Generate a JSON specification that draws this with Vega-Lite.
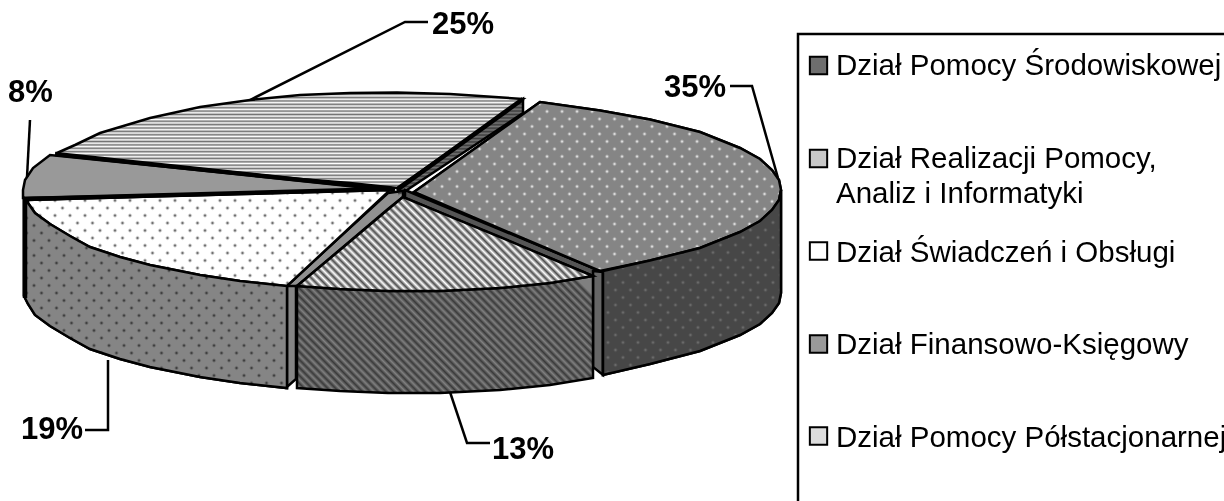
{
"$schema":"https://vega.github.io/schema/vega-lite/v6.json",
"width":1224,"height":501,"autosize":{"type":"none"},"padding":0,
"background":"white","view":{"stroke":null},
"params":[{"name":"stripes","value":[{"offset":0,"color":"#0000"},{"offset":0.01,"color":"#000"},{"offset":0.02,"color":"#0000"},{"offset":0.03,"color":"#000"},{"offset":0.04,"color":"#0000"},{"offset":0.05,"color":"#000"},{"offset":0.06,"color":"#0000"},{"offset":0.07,"color":"#000"},{"offset":0.08,"color":"#0000"},{"offset":0.09,"color":"#000"},{"offset":0.1,"color":"#0000"},{"offset":0.11,"color":"#000"},{"offset":0.12,"color":"#0000"},{"offset":0.13,"color":"#000"},{"offset":0.14,"color":"#0000"},{"offset":0.15,"color":"#000"},{"offset":0.16,"color":"#0000"},{"offset":0.17,"color":"#000"},{"offset":0.18,"color":"#0000"},{"offset":0.19,"color":"#000"},{"offset":0.2,"color":"#0000"},{"offset":0.21,"color":"#000"},{"offset":0.22,"color":"#0000"},{"offset":0.23,"color":"#000"},{"offset":0.24,"color":"#0000"},{"offset":0.25,"color":"#000"},{"offset":0.26,"color":"#0000"},{"offset":0.27,"color":"#000"},{"offset":0.28,"color":"#0000"},{"offset":0.29,"color":"#000"},{"offset":0.3,"color":"#0000"},{"offset":0.31,"color":"#000"},{"offset":0.32,"color":"#0000"},{"offset":0.33,"color":"#000"},{"offset":0.34,"color":"#0000"},{"offset":0.35,"color":"#000"},{"offset":0.36,"color":"#0000"},{"offset":0.37,"color":"#000"},{"offset":0.38,"color":"#0000"},{"offset":0.39,"color":"#000"},{"offset":0.4,"color":"#0000"},{"offset":0.41,"color":"#000"},{"offset":0.42,"color":"#0000"},{"offset":0.43,"color":"#000"},{"offset":0.44,"color":"#0000"},{"offset":0.45,"color":"#000"},{"offset":0.46,"color":"#0000"},{"offset":0.47,"color":"#000"},{"offset":0.48,"color":"#0000"},{"offset":0.49,"color":"#000"},{"offset":0.5,"color":"#0000"},{"offset":0.51,"color":"#000"},{"offset":0.52,"color":"#0000"},{"offset":0.53,"color":"#000"},{"offset":0.54,"color":"#0000"},{"offset":0.55,"color":"#000"},{"offset":0.56,"color":"#0000"},{"offset":0.57,"color":"#000"},{"offset":0.58,"color":"#0000"},{"offset":0.59,"color":"#000"},{"offset":0.6,"color":"#0000"},{"offset":0.61,"color":"#000"},{"offset":0.62,"color":"#0000"},{"offset":0.63,"color":"#000"},{"offset":0.64,"color":"#0000"},{"offset":0.65,"color":"#000"},{"offset":0.66,"color":"#0000"},{"offset":0.67,"color":"#000"},{"offset":0.68,"color":"#0000"},{"offset":0.69,"color":"#000"},{"offset":0.7,"color":"#0000"},{"offset":0.71,"color":"#000"},{"offset":0.72,"color":"#0000"},{"offset":0.73,"color":"#000"},{"offset":0.74,"color":"#0000"},{"offset":0.75,"color":"#000"},{"offset":0.76,"color":"#0000"},{"offset":0.77,"color":"#000"},{"offset":0.78,"color":"#0000"},{"offset":0.79,"color":"#000"},{"offset":0.8,"color":"#0000"},{"offset":0.81,"color":"#000"},{"offset":0.82,"color":"#0000"},{"offset":0.83,"color":"#000"},{"offset":0.84,"color":"#0000"},{"offset":0.85,"color":"#000"},{"offset":0.86,"color":"#0000"},{"offset":0.87,"color":"#000"},{"offset":0.88,"color":"#0000"},{"offset":0.89,"color":"#000"},{"offset":0.9,"color":"#0000"},{"offset":0.91,"color":"#000"},{"offset":0.92,"color":"#0000"},{"offset":0.93,"color":"#000"},{"offset":0.94,"color":"#0000"},{"offset":0.95,"color":"#000"},{"offset":0.96,"color":"#0000"},{"offset":0.97,"color":"#000"},{"offset":0.98,"color":"#0000"},{"offset":0.99,"color":"#000"},{"offset":1,"color":"#0000"}]},
{"name":"maskW","value":[{"offset":0.0075,"color":"#fff"},{"offset":0.0125,"color":"#fff0"},{"offset":0.0175,"color":"#fff"},{"offset":0.0325,"color":"#fff"},{"offset":0.0375,"color":"#fff0"},{"offset":0.0425,"color":"#fff"},{"offset":0.0575,"color":"#fff"},{"offset":0.0625,"color":"#fff0"},{"offset":0.0675,"color":"#fff"},{"offset":0.0825,"color":"#fff"},{"offset":0.0875,"color":"#fff0"},{"offset":0.0925,"color":"#fff"},{"offset":0.1075,"color":"#fff"},{"offset":0.1125,"color":"#fff0"},{"offset":0.1175,"color":"#fff"},{"offset":0.1325,"color":"#fff"},{"offset":0.1375,"color":"#fff0"},{"offset":0.1425,"color":"#fff"},{"offset":0.1575,"color":"#fff"},{"offset":0.1625,"color":"#fff0"},{"offset":0.1675,"color":"#fff"},{"offset":0.1825,"color":"#fff"},{"offset":0.1875,"color":"#fff0"},{"offset":0.1925,"color":"#fff"},{"offset":0.2075,"color":"#fff"},{"offset":0.2125,"color":"#fff0"},{"offset":0.2175,"color":"#fff"},{"offset":0.2325,"color":"#fff"},{"offset":0.2375,"color":"#fff0"},{"offset":0.2425,"color":"#fff"},{"offset":0.2575,"color":"#fff"},{"offset":0.2625,"color":"#fff0"},{"offset":0.2675,"color":"#fff"},{"offset":0.2825,"color":"#fff"},{"offset":0.2875,"color":"#fff0"},{"offset":0.2925,"color":"#fff"},{"offset":0.3075,"color":"#fff"},{"offset":0.3125,"color":"#fff0"},{"offset":0.3175,"color":"#fff"},{"offset":0.3325,"color":"#fff"},{"offset":0.3375,"color":"#fff0"},{"offset":0.3425,"color":"#fff"},{"offset":0.3575,"color":"#fff"},{"offset":0.3625,"color":"#fff0"},{"offset":0.3675,"color":"#fff"},{"offset":0.3825,"color":"#fff"},{"offset":0.3875,"color":"#fff0"},{"offset":0.3925,"color":"#fff"},{"offset":0.4075,"color":"#fff"},{"offset":0.4125,"color":"#fff0"},{"offset":0.4175,"color":"#fff"},{"offset":0.4325,"color":"#fff"},{"offset":0.4375,"color":"#fff0"},{"offset":0.4425,"color":"#fff"},{"offset":0.4575,"color":"#fff"},{"offset":0.4625,"color":"#fff0"},{"offset":0.4675,"color":"#fff"},{"offset":0.4825,"color":"#fff"},{"offset":0.4875,"color":"#fff0"},{"offset":0.4925,"color":"#fff"},{"offset":0.5075,"color":"#fff"},{"offset":0.5125,"color":"#fff0"},{"offset":0.5175,"color":"#fff"},{"offset":0.5325,"color":"#fff"},{"offset":0.5375,"color":"#fff0"},{"offset":0.5425,"color":"#fff"},{"offset":0.5575,"color":"#fff"},{"offset":0.5625,"color":"#fff0"},{"offset":0.5675,"color":"#fff"},{"offset":0.5825,"color":"#fff"},{"offset":0.5875,"color":"#fff0"},{"offset":0.5925,"color":"#fff"},{"offset":0.6075,"color":"#fff"},{"offset":0.6125,"color":"#fff0"},{"offset":0.6175,"color":"#fff"},{"offset":0.6325,"color":"#fff"},{"offset":0.6375,"color":"#fff0"},{"offset":0.6425,"color":"#fff"},{"offset":0.6575,"color":"#fff"},{"offset":0.6625,"color":"#fff0"},{"offset":0.6675,"color":"#fff"},{"offset":0.6825,"color":"#fff"},{"offset":0.6875,"color":"#fff0"},{"offset":0.6925,"color":"#fff"},{"offset":0.7075,"color":"#fff"},{"offset":0.7125,"color":"#fff0"},{"offset":0.7175,"color":"#fff"},{"offset":0.7325,"color":"#fff"},{"offset":0.7375,"color":"#fff0"},{"offset":0.7425,"color":"#fff"},{"offset":0.7575,"color":"#fff"},{"offset":0.7625,"color":"#fff0"},{"offset":0.7675,"color":"#fff"},{"offset":0.7825,"color":"#fff"},{"offset":0.7875,"color":"#fff0"},{"offset":0.7925,"color":"#fff"},{"offset":0.8075,"color":"#fff"},{"offset":0.8125,"color":"#fff0"},{"offset":0.8175,"color":"#fff"}]},
{"name":"maskG","value":[{"offset":0.0075,"color":"#858585"},{"offset":0.0125,"color":"#85858500"},{"offset":0.0175,"color":"#858585"},{"offset":0.0325,"color":"#858585"},{"offset":0.0375,"color":"#85858500"},{"offset":0.0425,"color":"#858585"},{"offset":0.0575,"color":"#858585"},{"offset":0.0625,"color":"#85858500"},{"offset":0.0675,"color":"#858585"},{"offset":0.0825,"color":"#858585"},{"offset":0.0875,"color":"#85858500"},{"offset":0.0925,"color":"#858585"},{"offset":0.1075,"color":"#858585"},{"offset":0.1125,"color":"#85858500"},{"offset":0.1175,"color":"#858585"},{"offset":0.1325,"color":"#858585"},{"offset":0.1375,"color":"#85858500"},{"offset":0.1425,"color":"#858585"},{"offset":0.1575,"color":"#858585"},{"offset":0.1625,"color":"#85858500"},{"offset":0.1675,"color":"#858585"},{"offset":0.1825,"color":"#858585"},{"offset":0.1875,"color":"#85858500"},{"offset":0.1925,"color":"#858585"},{"offset":0.2075,"color":"#858585"},{"offset":0.2125,"color":"#85858500"},{"offset":0.2175,"color":"#858585"},{"offset":0.2325,"color":"#858585"},{"offset":0.2375,"color":"#85858500"},{"offset":0.2425,"color":"#858585"},{"offset":0.2575,"color":"#858585"},{"offset":0.2625,"color":"#85858500"},{"offset":0.2675,"color":"#858585"},{"offset":0.2825,"color":"#858585"},{"offset":0.2875,"color":"#85858500"},{"offset":0.2925,"color":"#858585"},{"offset":0.3075,"color":"#858585"},{"offset":0.3125,"color":"#85858500"},{"offset":0.3175,"color":"#858585"},{"offset":0.3325,"color":"#858585"},{"offset":0.3375,"color":"#85858500"},{"offset":0.3425,"color":"#858585"},{"offset":0.3575,"color":"#858585"},{"offset":0.3625,"color":"#85858500"},{"offset":0.3675,"color":"#858585"},{"offset":0.3825,"color":"#858585"},{"offset":0.3875,"color":"#85858500"},{"offset":0.3925,"color":"#858585"},{"offset":0.4075,"color":"#858585"},{"offset":0.4125,"color":"#85858500"},{"offset":0.4175,"color":"#858585"},{"offset":0.4325,"color":"#858585"},{"offset":0.4375,"color":"#85858500"},{"offset":0.4425,"color":"#858585"},{"offset":0.4575,"color":"#858585"},{"offset":0.4625,"color":"#85858500"},{"offset":0.4675,"color":"#858585"},{"offset":0.4825,"color":"#858585"},{"offset":0.4875,"color":"#85858500"},{"offset":0.4925,"color":"#858585"},{"offset":0.5075,"color":"#858585"},{"offset":0.5125,"color":"#85858500"},{"offset":0.5175,"color":"#858585"},{"offset":0.5325,"color":"#858585"},{"offset":0.5375,"color":"#85858500"},{"offset":0.5425,"color":"#858585"},{"offset":0.5575,"color":"#858585"},{"offset":0.5625,"color":"#85858500"},{"offset":0.5675,"color":"#858585"},{"offset":0.5825,"color":"#858585"},{"offset":0.5875,"color":"#85858500"},{"offset":0.5925,"color":"#858585"},{"offset":0.6075,"color":"#858585"},{"offset":0.6125,"color":"#85858500"},{"offset":0.6175,"color":"#858585"},{"offset":0.6325,"color":"#858585"},{"offset":0.6375,"color":"#85858500"},{"offset":0.6425,"color":"#858585"},{"offset":0.6575,"color":"#858585"},{"offset":0.6625,"color":"#85858500"},{"offset":0.6675,"color":"#858585"},{"offset":0.6825,"color":"#858585"},{"offset":0.6875,"color":"#85858500"},{"offset":0.6925,"color":"#858585"},{"offset":0.7075,"color":"#858585"},{"offset":0.7125,"color":"#85858500"},{"offset":0.7175,"color":"#858585"},{"offset":0.7325,"color":"#858585"},{"offset":0.7375,"color":"#85858500"},{"offset":0.7425,"color":"#858585"},{"offset":0.7575,"color":"#858585"},{"offset":0.7625,"color":"#85858500"},{"offset":0.7675,"color":"#858585"},{"offset":0.7825,"color":"#858585"},{"offset":0.7875,"color":"#85858500"},{"offset":0.7925,"color":"#858585"},{"offset":0.8075,"color":"#858585"},{"offset":0.8125,"color":"#85858500"},{"offset":0.8175,"color":"#858585"},{"offset":0.8325,"color":"#858585"},{"offset":0.8375,"color":"#85858500"},{"offset":0.8425,"color":"#858585"},{"offset":0.8575,"color":"#858585"},{"offset":0.8625,"color":"#85858500"},{"offset":0.8675,"color":"#858585"},{"offset":0.8825,"color":"#858585"},{"offset":0.8875,"color":"#85858500"},{"offset":0.8925,"color":"#858585"}]}],
"datasets":{
"parts":[
{"part":"ES","x":398,"y":189,"y2":196},{"part":"ES","x":523,"y":99,"y2":113},
{"part":"ET","x":57,"y":153,"y2":155},{"part":"ET","x":75,"y":145,"y2":157},{"part":"ET","x":100,"y":133,"y2":159},{"part":"ET","x":150,"y":118,"y2":164},{"part":"ET","x":200,"y":107,"y2":169},{"part":"ET","x":250,"y":100,"y2":174},{"part":"ET","x":300,"y":95,"y2":179},{"part":"ET","x":350,"y":93,"y2":183},{"part":"ET","x":397,"y":92.5,"y2":188},{"part":"ET","x":450,"y":94,"y2":151},{"part":"ET","x":523,"y":99,"y2":99},
{"part":"DT","x":23,"y":190,"y2":198},{"part":"DT","x":25,"y":180,"y2":198},{"part":"DT","x":33,"y":168,"y2":197.8},{"part":"DT","x":50,"y":155,"y2":197.4},{"part":"DT","x":392,"y":190,"y2":190},
{"part":"CW","x":24,"y":198,"y2":296},{"part":"CW","x":28,"y":203,"y2":304},{"part":"CW","x":35,"y":213,"y2":315},{"part":"CW","x":50,"y":224,"y2":326},{"part":"CW","x":70,"y":236,"y2":338},{"part":"CW","x":90,"y":247,"y2":349},{"part":"CW","x":120,"y":257,"y2":359},{"part":"CW","x":150,"y":265,"y2":367},{"part":"CW","x":200,"y":275,"y2":377},{"part":"CW","x":240,"y":281,"y2":383},{"part":"CW","x":287,"y":286,"y2":388},
{"part":"CV","x":287,"y":285,"y2":387},{"part":"CV","x":296,"y":285,"y2":379},
{"part":"CS","x":287,"y":285,"y2":286},{"part":"CS","x":297,"y":276,"y2":286},{"part":"CS","x":388,"y":193,"y2":209},{"part":"CS","x":403,"y":191,"y2":197},
{"part":"CT","x":28,"y":200,"y2":203},{"part":"CT","x":35,"y":199.8,"y2":213},{"part":"CT","x":50,"y":199.4,"y2":224},{"part":"CT","x":70,"y":198.8,"y2":236},{"part":"CT","x":90,"y":198.3,"y2":247},{"part":"CT","x":120,"y":197.5,"y2":257},{"part":"CT","x":150,"y":196.6,"y2":265},{"part":"CT","x":200,"y":195.2,"y2":275},{"part":"CT","x":240,"y":194.1,"y2":281},{"part":"CT","x":287,"y":192.8,"y2":286},{"part":"CT","x":388,"y":190,"y2":192},
{"part":"AS","x":405,"y":190,"y2":198},{"part":"AS","x":593,"y":268,"y2":276},{"part":"AS","x":603,"y":272,"y2":276},
{"part":"AV","x":593,"y":271,"y2":367},{"part":"AV","x":603,"y":272,"y2":375},
{"part":"AW","x":603,"y":271,"y2":375},{"part":"AW","x":650,"y":260.5,"y2":364},{"part":"AW","x":700,"y":248,"y2":351},{"part":"AW","x":740,"y":232,"y2":335},{"part":"AW","x":760,"y":221,"y2":324},{"part":"AW","x":772,"y":210,"y2":313},{"part":"AW","x":779,"y":200,"y2":303},{"part":"AW","x":781,"y":190,"y2":293},
{"part":"AT","x":414,"y":192,"y2":192},{"part":"AT","x":540,"y":102,"y2":245.5},{"part":"AT","x":600,"y":110.6,"y2":271},{"part":"AT","x":650,"y":119.5,"y2":260.5},{"part":"AT","x":700,"y":132,"y2":248},{"part":"AT","x":740,"y":148,"y2":232},{"part":"AT","x":760,"y":159,"y2":221},{"part":"AT","x":772,"y":170,"y2":210},{"part":"AT","x":779,"y":180,"y2":200},{"part":"AT","x":781,"y":190,"y2":190},
{"part":"BW","x":297,"y":286,"y2":388},{"part":"BW","x":340,"y":289,"y2":391},{"part":"BW","x":388,"y":291,"y2":393},{"part":"BW","x":440,"y":291,"y2":393},{"part":"BW","x":500,"y":288,"y2":390},{"part":"BW","x":550,"y":283,"y2":385},{"part":"BW","x":593,"y":276,"y2":378},
{"part":"BT","x":297,"y":286,"y2":286},{"part":"BT","x":340,"y":250,"y2":289},{"part":"BT","x":388,"y":209.6,"y2":291},{"part":"BT","x":403,"y":197,"y2":291},{"part":"BT","x":440,"y":212.4,"y2":291},{"part":"BT","x":500,"y":237,"y2":288},{"part":"BT","x":550,"y":258,"y2":283},{"part":"BT","x":593,"y":276,"y2":276}
],
"lines":[
{"id":"l25","w":"thin","x":250,"y":100,"o":1},{"id":"l25","w":"thin","x":405,"y":22,"o":2},{"id":"l25","w":"thin","x":428,"y":22,"o":3},
{"id":"l35","w":"thin","x":730,"y":86,"o":1},{"id":"l35","w":"thin","x":752,"y":86,"o":2},{"id":"l35","w":"thin","x":778,"y":178,"o":3},
{"id":"l8","w":"thin","x":30,"y":120,"o":1},{"id":"l8","w":"thin","x":27,"y":177,"o":2},
{"id":"l19","w":"thin","x":85,"y":430,"o":1},{"id":"l19","w":"thin","x":108,"y":430,"o":2},{"id":"l19","w":"thin","x":108,"y":360,"o":3},
{"id":"l13","w":"thin","x":450,"y":392,"o":1},{"id":"l13","w":"thin","x":467,"y":443,"o":2},{"id":"l13","w":"thin","x":490,"y":443,"o":3},
{"id":"frame","w":"thin","x":798,"y":501,"o":1},{"id":"frame","w":"thin","x":798,"y":34,"o":2},{"id":"frame","w":"thin","x":1224,"y":34,"o":3},
{"id":"t1","w":"thick","x":55,"y":154,"o":1},{"id":"t1","w":"thick","x":395,"y":190,"o":2},
{"id":"t2","w":"thick","x":25,"y":199,"o":1},{"id":"t2","w":"thick","x":392,"y":189,"o":2},
{"id":"t3","w":"thick","x":397,"y":190,"o":1},{"id":"t3","w":"thick","x":523,"y":99,"o":2},
{"id":"t4","w":"thick","x":25,"y":198,"o":1},{"id":"t4","w":"thick","x":25,"y":298,"o":2}
],
"labels":[
{"t":"25%","x":432,"y":34},{"t":"35%","x":664,"y":97},{"t":"8%","x":8,"y":102},{"t":"19%","x":21,"y":439},{"t":"13%","x":492,"y":459}
],
"legend":[
{"t":"Dział Pomocy Środowiskowej","x":836,"y":75},
{"t":"Dział Realizacji Pomocy,","x":836,"y":168},
{"t":"Analiz i Informatyki","x":836,"y":203},
{"t":"Dział Świadczeń i Obsługi","x":836,"y":262},
{"t":"Dział Finansowo-Księgowy","x":836,"y":354},
{"t":"Dział Pomocy Półstacjonarnej","x":836,"y":447}
],
"swatches":[
{"d":"Dział Pomocy Środowiskowej","x":818.5,"y":65.5},
{"d":"Dział Realizacji Pomocy, Analiz i Informatyki","x":818.5,"y":158.5},
{"d":"Dział Świadczeń i Obsługi","x":818.5,"y":251},
{"d":"Dział Finansowo-Księgowy","x":818.5,"y":344},
{"d":"Dział Pomocy Półstacjonarnej","x":818.5,"y":436}
]
},
"encoding":{
"x":{"field":"x","type":"quantitative","scale":{"domain":[0,1224],"nice":false,"zero":false},"axis":null},
"y":{"field":"y","type":"quantitative","scale":{"domain":[501,0],"nice":false,"zero":false},"axis":null}
},
"resolve":{"scale":{"fill":"independent"}},
"layer":[
{"data":{"name":"parts"},
 "mark":{"type":"area","orient":"vertical","stroke":"black","strokeWidth":2.5,"strokeJoin":"miter","opacity":1},
 "encoding":{"y2":{"field":"y2"},
 "fill":{"field":"part","type":"nominal","legend":null,"scale":{"domain":["ES","ET","DT","CW","CV","CS","CT","AS","AV","AW","AT","BW","BT"],"range":["#777777","#ffffff","#999999","#222222","#858585","#909090","#333333","#555555","#666666","#e0e0e0","#ffffff","#808080","#ffffff"]}}}},
{"data":{"name":"parts"},"transform":[{"filter":"datum.part=='ET'"}],
 "mark":{"type":"area","orient":"vertical","opacity":0.55,"fill":{"expr":"{gradient:'linear',x1:0,y1:0,x2:0,y2:1.77,stops:stripes}"}},
 "encoding":{"y2":{"field":"y2"}}},
{"data":{"name":"parts"},"transform":[{"filter":"datum.part=='ES'"}],
 "mark":{"type":"area","orient":"vertical","opacity":0.5,"fill":{"expr":"{gradient:'linear',x1:0,y1:0,x2:0,y2:1.77,stops:stripes}"}},
 "encoding":{"y2":{"field":"y2"}}},
{"data":{"name":"parts"},"transform":[{"filter":"datum.part=='BT'"}],
 "mark":{"type":"area","orient":"vertical","opacity":0.7,"fill":{"expr":"{gradient:'linear',x1:0,y1:1,x2:1.197,y2:0.62,stops:stripes}"}},
 "encoding":{"y2":{"field":"y2"}}},
{"data":{"name":"parts"},"transform":[{"filter":"datum.part=='BW'"}],
 "mark":{"type":"area","orient":"vertical","opacity":0.55,"fill":{"expr":"{gradient:'linear',x1:0,y1:1,x2:1.15,y2:0.55,stops:stripes}"}},
 "encoding":{"y2":{"field":"y2"}}},
{"data":{"name":"parts"},"transform":[{"filter":"datum.part=='CT'"}],
 "mark":{"type":"area","orient":"vertical","fill":{"expr":"{gradient:'linear',x1:0,y1:1,x2:1.556,y2:0.585,stops:maskW}"}},
 "encoding":{"y2":{"field":"y2"}}},
{"data":{"name":"parts"},"transform":[{"filter":"datum.part=='CT'"}],
 "mark":{"type":"area","orient":"vertical","stroke":"black","strokeWidth":2.5,"fill":{"expr":"{gradient:'linear',x1:0,y1:0,x2:1.556,y2:0.415,stops:maskW}"}},
 "encoding":{"y2":{"field":"y2"}}},
{"data":{"name":"parts"},"transform":[{"filter":"datum.part=='CW'"}],
 "mark":{"type":"area","orient":"vertical","fill":{"expr":"{gradient:'linear',x1:0,y1:1,x2:1.499,y2:-0.083,stops:maskG}"}},
 "encoding":{"y2":{"field":"y2"}}},
{"data":{"name":"parts"},"transform":[{"filter":"datum.part=='CW'"}],
 "mark":{"type":"area","orient":"vertical","stroke":"black","strokeWidth":2.5,"fill":{"expr":"{gradient:'linear',x1:0,y1:0,x2:1.499,y2:1.083,stops:maskG}"}},
 "encoding":{"y2":{"field":"y2"}}},
{"data":{"name":"parts"},"transform":[{"filter":"datum.part=='AT'"}],
 "mark":{"type":"area","orient":"vertical","fill":{"expr":"{gradient:'linear',x1:0,y1:1,x2:1.349,y2:0.379,stops:maskG}"}},
 "encoding":{"y2":{"field":"y2"}}},
{"data":{"name":"parts"},"transform":[{"filter":"datum.part=='AT'"}],
 "mark":{"type":"area","orient":"vertical","stroke":"black","strokeWidth":2.5,"fill":{"expr":"{gradient:'linear',x1:0,y1:0,x2:1.349,y2:0.621,stops:maskG}"}},
 "encoding":{"y2":{"field":"y2"}}},
{"data":{"name":"parts"},"transform":[{"filter":"datum.part=='AW'"}],
 "mark":{"type":"area","orient":"vertical","fill":{"expr":"{gradient:'linear',x1:0,y1:1,x2:1.62,y2:-0.684,stops:maskG}"}},
 "encoding":{"y2":{"field":"y2"}}},
{"data":{"name":"parts"},"transform":[{"filter":"datum.part=='AW'"}],
 "mark":{"type":"area","orient":"vertical","fill":{"expr":"{gradient:'linear',x1:0,y1:0,x2:1.62,y2:1.684,stops:maskG}"}},
 "encoding":{"y2":{"field":"y2"}}},
{"data":{"name":"parts"},"transform":[{"filter":"datum.part=='AW'"}],
 "mark":{"type":"area","orient":"vertical","fill":"#888888","blend":"multiply","stroke":"black","strokeWidth":2.5},
 "encoding":{"y2":{"field":"y2"}}},
{"data":{"name":"lines"},
 "mark":{"type":"line","color":"black","interpolate":"linear"},
 "encoding":{"detail":{"field":"id"},"order":{"field":"o","type":"quantitative"},
 "strokeWidth":{"field":"w","type":"nominal","legend":null,"scale":{"domain":["thin","thick"],"range":[2.5,4.5]}}}},
{"data":{"name":"labels"},
 "mark":{"type":"text","font":"Liberation Sans","fontWeight":"bold","fontSize":31,"align":"left","baseline":"alphabetic","color":"black"},
 "encoding":{"text":{"field":"t"}}},
{"data":{"name":"legend"},
 "mark":{"type":"text","font":"Liberation Sans","fontSize":29.5,"align":"left","baseline":"alphabetic","color":"black"},
 "encoding":{"text":{"field":"t"}}},
{"data":{"name":"swatches"},
 "mark":{"type":"point","shape":"square","filled":true,"size":300,"stroke":"black","strokeWidth":2,"opacity":1},
 "encoding":{"fill":{"field":"d","type":"nominal","legend":null,"sort":null,"scale":{"domain":["Dział Pomocy Środowiskowej","Dział Realizacji Pomocy, Analiz i Informatyki","Dział Świadczeń i Obsługi","Dział Finansowo-Księgowy","Dział Pomocy Półstacjonarnej"],"range":["#6e6e6e","#c8c8c8","#ffffff","#999999","#dddddd"]}}}}
]
}
